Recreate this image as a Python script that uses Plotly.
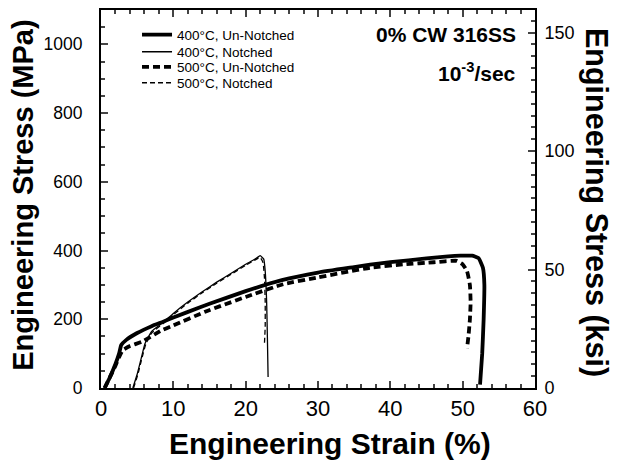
import plotly.graph_objects as go

# 400°C Un-Notched (thick solid)
s400u_x = [0.5, 1.2, 2.0, 2.5, 2.8, 3.5, 5.0, 7.0, 8.6, 10, 13.7, 15, 20, 25, 30, 35, 37.2, 40, 45, 48, 49.7, 51.3, 52.2, 52.8, 53.0, 52.9, 52.7, 52.4]
s400u_y = [0, 30, 70, 100, 125, 140, 160, 180, 193, 205, 235, 245, 282, 314, 336, 352, 359, 366, 377, 383, 385, 385, 378, 350, 300, 200, 100, 10]

# 400°C Notched (thin solid)
s400n_x = [4.4, 5.0, 5.6, 6.1, 7.0, 8.6, 10, 12, 14, 16, 18, 20, 21.5, 22.0, 22.5, 22.7, 22.9, 23.0, 23.1]
s400n_y = [0, 40, 90, 130, 165, 191, 217, 250, 280, 308, 334, 360, 378, 385, 375, 340, 250, 150, 32]

# 500°C Un-Notched (thick dashed)
s500u_x = [0.5, 1.2, 2.0, 2.5, 3.0, 4.0, 5.7, 8.4, 10, 14.4, 20, 25.2, 30, 37.2, 42, 46, 49.2, 50.0, 50.6, 51.0, 51.1, 51.0, 50.8, 50.6]
s500u_y = [0, 30, 65, 90, 110, 122, 135, 168, 182, 222, 265, 302, 322, 350, 360, 366, 370, 360, 340, 300, 250, 200, 150, 115]

# 500°C Notched (thin dashed)
s500n_x = [4.5, 5.1, 5.7, 6.2, 7.0, 8.6, 10, 12, 14, 16, 18, 20, 21.5, 22.0, 22.4, 22.6, 22.7, 22.7, 22.6]
s500n_y = [0, 40, 90, 128, 160, 188, 213, 247, 277, 305, 331, 357, 375, 380, 365, 320, 250, 180, 130]

MPA_PER_KSI = 6.895
y_max = 1100

fig = go.Figure()
fig.add_trace(go.Scatter(x=s400u_x, y=s400u_y, mode="lines", name="400°C, Un-Notched", legend="legend",
                         line=dict(color="black", width=3.8, shape="spline", smoothing=0.4)))
fig.add_trace(go.Scatter(x=s400n_x, y=s400n_y, mode="lines", name="400°C, Notched", legend="legend2",
                         line=dict(color="black", width=1.3, shape="spline", smoothing=0.4)))
fig.add_trace(go.Scatter(x=s500u_x, y=s500u_y, mode="lines", name="500°C, Un-Notched", legend="legend3",
                         line=dict(color="black", width=3.8, dash="7px,4px", shape="spline", smoothing=0.4)))
fig.add_trace(go.Scatter(x=s500n_x, y=s500n_y, mode="lines", name="500°C, Notched", legend="legend4",
                         line=dict(color="black", width=1.3, dash="5px,3px", shape="spline", smoothing=0.4)))
# invisible trace for right axis
fig.add_trace(go.Scatter(x=[0], y=[0], yaxis="y2", mode="markers", marker=dict(opacity=0),
                         showlegend=False, hoverinfo="skip"))

font = "Liberation Sans, Arial, sans-serif"

def leg(yc):
    return dict(x=0.083, y=yc, xanchor="left", yanchor="middle", bgcolor="rgba(0,0,0,0)",
                font=dict(size=13.5, family=font))

fig.update_layout(
    width=610, height=454,
    margin=dict(l=93, r=83, t=2, b=74),
    plot_bgcolor="white", paper_bgcolor="white",
    font=dict(family=font, color="black"),
    showlegend=True,
    legend=leg(0.934), legend2=leg(0.889), legend3=leg(0.849), legend4=leg(0.807),
    xaxis=dict(range=[0, 60], dtick=10, tick0=0, ticks="inside", ticklen=7, tickwidth=1.5,
               showline=True, linewidth=2, linecolor="black", mirror="ticks", automargin=False,
               showgrid=False, zeroline=False, tickfont=dict(size=22),
               minor=dict(dtick=2, ticks="inside", ticklen=4, tickwidth=1.5, showgrid=False)),
    yaxis=dict(range=[0, y_max], tickvals=[0, 200, 400, 600, 800, 1000], ticks="inside", ticklen=7, tickwidth=1.5,
               showline=True, linewidth=2, linecolor="black", mirror=False, automargin=False,
               showgrid=False, zeroline=False, tickfont=dict(size=17.5), ticklabelstandoff=13,
               minor=dict(dtick=50, ticks="inside", ticklen=4, tickwidth=1.5, showgrid=False)),
    yaxis2=dict(range=[0, y_max / MPA_PER_KSI], overlaying="y", side="right", dtick=50, ticks="inside",
                ticklen=7, tickwidth=1.5, showline=True, linewidth=2, linecolor="black", automargin=False,
                showgrid=False, zeroline=False, tickfont=dict(size=18), ticklabelstandoff=4,
                minor=dict(dtick=5, ticks="inside", ticklen=4, tickwidth=1.5, showgrid=False)),
    annotations=[
        dict(text="<b>Engineering Strain (%)</b>", xref="paper", yref="paper", x=0.528, y=-0.148,
             showarrow=False, font=dict(size=30), xanchor="center", yanchor="middle"),
        dict(text="<b>Engineering Stress (MPa)</b>", xref="paper", yref="paper", x=-0.18, y=0.511,
             textangle=-90, showarrow=False, font=dict(size=29), xanchor="center", yanchor="middle"),
        dict(text="<b>Engineering Stress (ksi)</b>", xref="paper", yref="paper", x=1.143, y=0.492,
             textangle=90, showarrow=False, font=dict(size=30.5), xanchor="center", yanchor="middle"),
        dict(text="<b>0% CW 316SS</b>", xref="paper", yref="paper", x=0.961, y=0.934,
             showarrow=False, font=dict(size=21), xanchor="right", yanchor="middle"),
        dict(text="<b>10<sup>-3</sup>/sec</b>", xref="paper", yref="paper", x=0.961, y=0.836,
             showarrow=False, font=dict(size=21), xanchor="right", yanchor="middle"),
    ],
)

fig.write_html("out.html")
